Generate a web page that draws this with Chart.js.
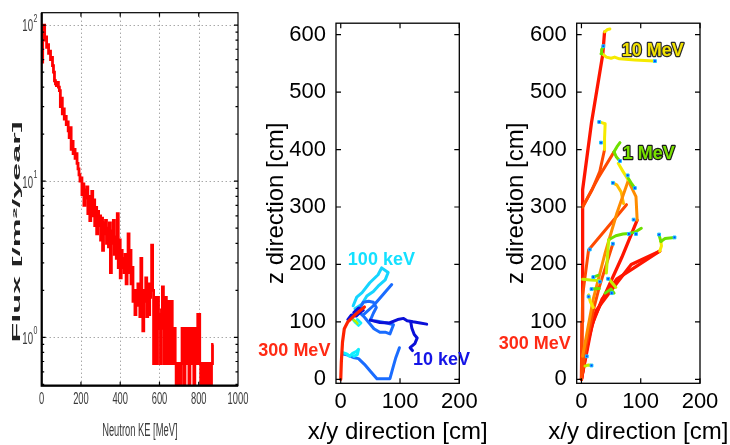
<!DOCTYPE html>
<html>
<head>
<meta charset="utf-8">
<script src="https://cdn.jsdelivr.net/npm/chart.js@4.4.1/dist/chart.umd.min.js"></script>
<style>
  html, body { margin: 0; padding: 0; background: #fff; }
  #wrap { position: relative; width: 730px; height: 445px; overflow: hidden; }
  #wrap canvas { position: absolute; top: 0; }
</style>
</head>
<body>
<div id="wrap">
  <canvas id="fluxChart" width="250" height="445" style="left:0px"></canvas>
  <canvas id="singleChart" width="242" height="445" style="left:250px"></canvas>
  <canvas id="showerChart" width="240" height="445" style="left:490px"></canvas>
</div>
<script>
/**
 * Neutron spectrum + neutron track panels
 */

// ---- left panel: flux spectrum, 5 MeV bins starting at 0 MeV ----
const binWidth = 5;
const fluxValues = [
    58, 92, 100, 80, 84, 72, 75, 66, 68, 60, 62, 55, 50, 44, 42, 41, 43, 40, 38, 30,
    34, 27, 29, 25, 26, 23, 24, 21, 19, 22, 16, 18, 15, 16, 14, 15, 13, 12, 11, 10,
    10.5, 8.2, 9.6, 7.0, 8.8, 7.8, 9.2, 6.2, 8.0, 5.6, 7.4, 8.6, 6.0, 7.6, 5.2, 6.8, 4.6, 6.4, 5.2, 6.0,
    4.2, 5.8, 3.6, 5.4, 4.6, 5.6, 4.0, 5.0, 3.8, 5.4, 2.6, 4.8, 4.0, 5.6, 3.4, 4.4, 3.2, 6.2, 2.8, 4.2,
    2.4, 3.6, 2.8, 3.2, 2.6, 3.4, 2.2, 3.0, 4.6, 2.6, 3.6, 2.2, 2.8, 1.7, 2.0, 1.4, 2.0, 1.6, 2.2, 1.9,
    1.36, 3.2, 1.4, 1.1, 2.0, 1.7, 2.4, 1.36, 2.2, 1.4, 1.8, 2.2, 3.9, 2.0, 0.68, 1.8, 1.4, 0.68, 1.8, 1.4,
    1.14, 0.68, 1.5, 2.1, 1.14, 0.68, 1.8, 1.14, 0.68, 1.7, 1.14, 0.68, 1.7, 1.14, 0.68, 1.14, 0.68, 0, 0.68, 0,
    0.68, 0, 0.68, 1.14, 1.14, 0, 1.14, 0.68, 1.14, 1.14, 0, 1.14, 1.14, 0.68, 1.14, 0, 1.14, 1.14, 0.68, 1.4,
    1.4, 0.68, 0, 0.68, 0.68, 0, 0.68, 0, 0.68, 0.68, 0, 0.68, 0, 0.68, 0.9
];
const energyTicks = [0, 200, 400, 600, 800, 1000];
const energyGrid = [200, 400, 600, 800];
const fluxDecades = [1, 10, 100];
const fluxMin = 0.49;
const fluxMax = 120;

// ---- track panels: [x/y, z] in cm ----
const cmTicksX = [0, 100, 200];
const cmTicksZ = [0, 100, 200, 300, 400, 500, 600];

// single 300 MeV neutron slowing down to keV
const singleRed = [[0, 0], [1, 30], [3, 65], [6, 88], [12, 100], [25, 113], [40, 126]];
const singleGreen = [[22, 103], [26, 100], [28, 97]];
const singleDark1 = [[12, 104], [18, 112], [26, 110], [32, 116], [38, 120], [30, 124], [22, 116]];
const singleDark2 = [[50, 103], [66, 99], [82, 98], [96, 104], [106, 106], [112, 102], [122, 100], [134, 98], [145, 96]];
const singleDark3 = [[118, 100], [120, 89], [124, 78], [129, 72], [125, 62], [117, 55], [121, 50]];
const singleMid1 = [[4, 44], [12, 42], [21, 38], [30, 36], [40, 26], [50, 14], [61, 1], [72, 1], [83, 1], [88, 20], [93, 38], [99, 55]];
const singleMid2 = [[32, 123], [38, 134], [47, 136], [55, 134], [60, 125], [55, 115], [50, 103], [62, 101], [78, 98], [89, 95], [86, 87], [83, 79], [75, 82], [66, 82], [56, 88], [48, 98], [40, 108], [32, 116]];
const singleMid3 = [[38, 112], [55, 128], [70, 146], [86, 165]];
const singleCyan1 = [[21, 128], [27, 143], [36, 151], [49, 168], [63, 182], [69, 194], [80, 186], [75, 173], [63, 162], [55, 153], [44, 145], [36, 131], [24, 123]];
const singleCyan2 = [[5, 46], [10, 44], [15, 40], [20, 45], [26, 48], [30, 52], [28, 43], [22, 40]];
const singleCyan3 = [[18, 108], [24, 100], [30, 94], [34, 98], [28, 104]];

// many 300 MeV neutrons
const showerRed = [
    [[0, 0], [1, 100], [2, 200], [2, 330], [17, 447], [36, 566], [39, 605]],
    [[0, 0], [14, 90], [39, 146], [68, 212], [94, 277]],
    [[0, 0], [12, 70], [25, 120], [48, 152], [84, 200], [132, 223]],
    [[0, 0], [18, 95], [35, 140], [60, 175], [90, 195], [132, 223]]
];
const showerOrangeRed = [
    [[2, 300], [18, 330], [31, 362], [39, 400]],
    [[2, 300], [28, 350], [55, 396]],
    [[0, 0], [2, 146], [12, 225], [76, 304]],
    [[0, 0], [8, 60], [20, 120], [30, 160], [42, 200], [53, 236]]
];
const showerOrange = [
    [[94, 277], [92, 318], [84, 335], [79, 346]],
    [[2, 40], [20, 140], [40, 220], [60, 290], [79, 346]]
];
const showerAmber = [
    [[53, 342], [60, 338], [67, 326], [71, 306]]
];
const showerYellow = [
    [[39, 605], [44, 609], [48, 610]],
    [[35, 567], [42, 561], [50, 559], [56, 561], [64, 558], [90, 556], [123, 554]],
    [[39, 400], [39, 420], [40, 445], [34, 447]],
    [[62, 376], [70, 362], [79, 347]],
    [[132, 223], [135, 232], [134, 240]],
    [[12, 147], [15, 135], [20, 125]]
];
const showerLime = [
    [[46, 243], [44, 215], [42, 185]],
    [[2, 174], [15, 173], [31, 172]],
    [[6, 23], [12, 25], [17, 24]],
    [[46, 175], [54, 165], [58, 160]]
];
const showerGreen = [
    [[33, 567], [34, 574], [37, 579]],
    [[55, 396], [60, 405], [65, 412]],
    [[55, 396], [59, 387], [64, 381]],
    [[79, 350], [85, 340], [90, 333]],
    [[134, 240], [141, 245], [157, 247]],
    [[134, 240], [131, 251]],
    [[46, 243], [58, 250], [70, 253], [80, 254], [90, 256], [101, 263]],
    [[17, 157], [30, 158]],
    [[20, 178], [28, 181]],
    [[40, 150], [50, 157], [55, 150]]
];
const showerEnds = [
    [37, 580], [124, 554], [30, 448], [33, 412], [65, 380], [90, 333], [78, 355], [53, 342],
    [88, 278], [14, 226], [157, 247], [131, 252], [80, 253], [92, 253], [31, 170], [20, 178],
    [17, 157], [12, 144], [51, 150], [45, 175], [9, 40], [17, 24], [53, 236]
];

const FONT = '"Liberation Sans", Arial, Helvetica, sans-serif';

/**
 * Box, inward ticks, dotted grid and text labels (MATLAB look)
 */
const framePlugin = {
    id: 'frame',
    beforeDatasetsDraw(chart, args, o) {
        if (!o.dotted) return;
        const {ctx, chartArea: a, scales} = chart;
        ctx.save();
        ctx.strokeStyle = '#808080';
        ctx.lineWidth = 1;
        ctx.setLineDash([1, 3]);
        ctx.beginPath();
        o.dotted.x.forEach(v => {
            const px = Math.round(scales.x.getPixelForValue(v)) + 0.5;
            ctx.moveTo(px, a.top);
            ctx.lineTo(px, a.bottom);
        });
        o.dotted.y.forEach(v => {
            const py = Math.round(scales.y.getPixelForValue(v)) + 0.5;
            ctx.moveTo(a.left, py);
            ctx.lineTo(a.right, py);
        });
        ctx.stroke();
        ctx.restore();
    },
    afterDatasetsDraw(chart, args, o) {
        const {ctx, chartArea: a, scales} = chart;
        ctx.save();
        ctx.strokeStyle = '#000';
        ctx.lineWidth = 1.2;
        ctx.beginPath();
        (o.xTicks || []).forEach(v => {
            const px = scales.x.getPixelForValue(v);
            ctx.moveTo(px, a.bottom);
            ctx.lineTo(px, a.bottom - o.tickLen);
            ctx.moveTo(px, a.top);
            ctx.lineTo(px, a.top + o.tickLen);
        });
        (o.yTicks || []).forEach(v => {
            const py = scales.y.getPixelForValue(v);
            ctx.moveTo(a.left, py);
            ctx.lineTo(a.left + o.tickLen, py);
            ctx.moveTo(a.right, py);
            ctx.lineTo(a.right - o.tickLen, py);
        });
        (o.yMinor || []).forEach(v => {
            const py = scales.y.getPixelForValue(v);
            ctx.moveTo(a.left, py);
            ctx.lineTo(a.left + o.minorLen, py);
            ctx.moveTo(a.right, py);
            ctx.lineTo(a.right - o.minorLen, py);
        });
        ctx.stroke();
        ctx.lineWidth = o.boxWidth || 1.3;
        ctx.strokeRect(a.left, a.top, a.right - a.left, a.bottom - a.top);
        if (o.heavy) {
            ctx.lineWidth = 2.2;
            ctx.beginPath();
            ctx.moveTo(a.left, a.top);
            ctx.lineTo(a.left, a.bottom);
            ctx.lineTo(a.right, a.bottom);
            ctx.stroke();
        }
        if (o.xTitle) {
            // wider than the plot box, so drawn here instead of scale title
            ctx.fillStyle = '#000';
            ctx.font = '24px ' + FONT;
            ctx.textAlign = 'center';
            ctx.textBaseline = 'middle';
            ctx.fillText(o.xTitle, (a.left + a.right) / 2, 432);
        }
        (o.labels || []).forEach(l => {
            ctx.font = 'bold 18px ' + FONT;
            ctx.textAlign = 'left';
            ctx.textBaseline = 'middle';
            const px = scales.x.getPixelForValue(l.x);
            const py = scales.y.getPixelForValue(l.y);
            if (l.outline) {
                ctx.lineWidth = 2.4;
                ctx.lineJoin = 'round';
                ctx.strokeStyle = l.outline;
                ctx.strokeText(l.text, px, py);
            }
            ctx.fillStyle = l.color;
            ctx.fillText(l.text, px, py);
        });
        ctx.restore();
    }
};

/**
 * Narrow tick labels and stretched title of the spectrum panel
 */
const fluxTextPlugin = {
    id: 'fluxText',
    afterDraw(chart) {
        const {ctx, chartArea: a, scales} = chart;
        ctx.save();
        ctx.fillStyle = '#3a3a3a';
        ctx.textBaseline = 'middle';
        ctx.textAlign = 'center';
        ctx.font = '17px ' + FONT;
        energyTicks.forEach(v => {
            ctx.save();
            ctx.translate(scales.x.getPixelForValue(v), 399);
            ctx.scale(0.55, 1);
            ctx.fillText(String(v), 0, 0);
            ctx.restore();
        });
        ctx.save();
        ctx.font = '18px ' + FONT;
        ctx.translate((a.left + a.right) / 2, 431);
        ctx.scale(0.52, 1);
        ctx.fillText('Neutron KE [MeV]', 0, 0);
        ctx.restore();

        fluxDecades.forEach(v => {
            const py = scales.y.getPixelForValue(v);
            ctx.save();
            ctx.translate(33, py + 2);
            ctx.scale(0.6, 1);
            ctx.textAlign = 'right';
            ctx.font = '16px ' + FONT;
            ctx.fillText('10', 0, 0);
            ctx.restore();
            ctx.save();
            ctx.translate(33.5, py - 6);
            ctx.scale(0.7, 1);
            ctx.textAlign = 'left';
            ctx.font = '10px ' + FONT;
            ctx.fillText(String(Math.round(Math.log10(v))), 0, 0);
            ctx.restore();
        });

        ctx.save();
        ctx.fillStyle = '#222';
        ctx.font = 'bold 10px ' + FONT;
        ctx.translate(17, 232);
        ctx.rotate(-Math.PI / 2);
        const title = 'Flux [/m\u00b2/year]';
        const w = ctx.measureText(title).width;
        ctx.scale(221 / w, 1);
        ctx.textAlign = 'center';
        ctx.fillText(title, 0, 0);
        ctx.restore();
        ctx.restore();
    }
};

function toXY(points) {
    return points.map(p => ({x: p[0], y: p[1]}));
}

function trackSet(points, color, width, order) {
    return {
        data: toXY(points),
        showLine: true,
        borderColor: color,
        borderWidth: width,
        pointRadius: 0,
        borderJoinStyle: 'round',
        borderCapStyle: 'round',
        order: order
    };
}

function cmScales(yWidth) {
    return {
        x: {
            type: 'linear',
            min: -8,
            max: 200,
            afterBuildTicks: s => { s.ticks = cmTicksX.map(v => ({value: v})); },
            ticks: {
                color: '#000',
                font: {family: FONT, size: 22},
                padding: 5,
                maxRotation: 0,
                autoSkip: false
            },
            grid: {display: false, drawTicks: false},
            border: {display: false},
            afterFit: s => { s.height = 61.7; }
        },
        y: {
            type: 'linear',
            min: -7,
            max: 620,
            afterBuildTicks: s => { s.ticks = cmTicksZ.map(v => ({value: v})); },
            ticks: {
                color: '#000',
                font: {family: FONT, size: 22},
                padding: 10,
                autoSkip: false
            },
            grid: {display: false, drawTicks: false},
            border: {display: false},
            title: {
                display: true,
                text: 'z direction [cm]',
                color: '#000',
                font: {family: FONT, size: 24, lineHeight: 1.1},
                padding: {top: 13.5, bottom: 0}
            },
            afterFit: s => { s.width = yWidth; }
        }
    };
}

const baseOptions = {
    responsive: false,
    animation: false,
    events: []
};

/**
 * Spectrum (log y, stairs)
 */
function initFluxChart() {
    const points = fluxValues.map((v, i) => ({x: i * binWidth, y: v > 0 ? v : fluxMin}));
    const last = fluxValues[fluxValues.length - 1];
    points.push({x: fluxValues.length * binWidth, y: last});

    const minor = [];
    [0.1, 1, 10].forEach(d => {
        for (let k = 2; k <= 9; k++) {
            const v = d * k;
            if (v > fluxMin && v < fluxMax) minor.push(v);
        }
    });

    new Chart(document.getElementById('fluxChart'), {
        type: 'line',
        data: {
            datasets: [{
                data: points,
                stepped: true,
                borderColor: '#ff0000',
                borderWidth: 2.8,
                pointRadius: 0,
                borderJoinStyle: 'miter'
            }]
        },
        options: {
            ...baseOptions,
            layout: {padding: {top: 12.7, right: 12, left: 0, bottom: 0}},
            scales: {
                x: {
                    type: 'linear',
                    min: 0,
                    max: 1000,
                    ticks: {display: false},
                    grid: {display: false},
                    border: {display: false},
                    afterFit: s => { s.height = 59.3; }
                },
                y: {
                    type: 'logarithmic',
                    min: fluxMin,
                    max: fluxMax,
                    ticks: {display: false},
                    grid: {display: false},
                    border: {display: false},
                    afterFit: s => { s.width = 41.7; }
                }
            },
            plugins: {
                legend: {display: false},
                tooltip: {enabled: false},
                frame: {
                    dotted: {x: energyGrid, y: fluxDecades},
                    xTicks: energyGrid,
                    yTicks: fluxDecades,
                    yMinor: minor,
                    tickLen: 4,
                    minorLen: 2.5,
                    boxWidth: 1.2,
                    heavy: true
                }
            }
        },
        plugins: [framePlugin, fluxTextPlugin]
    });
}

/**
 * One neutron track
 */
function initSingleChart() {
    const red = '#ff2200', green = '#b8f000', dark = '#0a10d8', mid = '#1a6cff', cyan = '#14d4ff', lightCyan = '#10eeff';
    new Chart(document.getElementById('singleChart'), {
        type: 'scatter',
        data: {
            datasets: [
                trackSet(singleRed, red, 3.2, 0),
                trackSet(singleGreen, green, 2.5, 1),
                trackSet(singleDark1, dark, 3, 2),
                trackSet(singleDark2, dark, 3, 2),
                trackSet(singleDark3, dark, 3, 2),
                trackSet(singleMid1, mid, 3, 3),
                trackSet(singleMid2, mid, 3, 3),
                trackSet(singleMid3, mid, 3, 3),
                trackSet(singleCyan1, cyan, 3, 4),
                trackSet(singleCyan2, lightCyan, 3, 2),
                trackSet(singleCyan3, lightCyan, 3, 4)
            ]
        },
        options: {
            ...baseOptions,
            layout: {padding: {top: 14, right: 32.7, left: 0, bottom: 0}},
            scales: cmScales(86),
            plugins: {
                legend: {display: false},
                tooltip: {enabled: false},
                frame: {
                    xTicks: cmTicksX,
                    yTicks: cmTicksZ,
                    tickLen: 5,
                    boxWidth: 1.3,
                    xTitle: 'x/y direction [cm]',
                    labels: [
                        {text: '300 MeV', x: -139, y: 49, color: '#ff2a14'},
                        {text: '100 keV', x: 12, y: 207, color: '#14e0ff'},
                        {text: '10 keV', x: 122, y: 34, color: '#1414e6'}
                    ]
                }
            }
        },
        plugins: [framePlugin]
    });
}

/**
 * Many neutron tracks
 */
function initShowerChart() {
    const sets = [];
    showerRed.forEach(t => sets.push(trackSet(t, '#ff1500', 3.3, 6)));
    showerOrangeRed.forEach(t => sets.push(trackSet(t, '#ff4a00', 3, 5)));
    showerOrange.forEach(t => sets.push(trackSet(t, '#ff8c00', 3, 4)));
    showerAmber.forEach(t => sets.push(trackSet(t, '#ffbe00', 3, 4)));
    showerYellow.forEach(t => sets.push(trackSet(t, '#f5ea00', 3, 3)));
    showerLime.forEach(t => sets.push(trackSet(t, '#c4f000', 3, 2)));
    showerGreen.forEach(t => sets.push(trackSet(t, '#6ee000', 3, 2)));
    sets.push({
        data: toXY(showerEnds),
        showLine: false,
        pointStyle: 'rect',
        pointRadius: 2,
        backgroundColor: '#0a3cff',
        borderColor: '#19c8ff',
        borderWidth: 1,
        order: 0
    });

    new Chart(document.getElementById('showerChart'), {
        type: 'scatter',
        data: {datasets: sets},
        options: {
            ...baseOptions,
            layout: {padding: {top: 14, right: 30, left: 0, bottom: 0}},
            scales: cmScales(86.7),
            plugins: {
                legend: {display: false},
                tooltip: {enabled: false},
                frame: {
                    xTicks: cmTicksX,
                    yTicks: cmTicksZ,
                    tickLen: 5,
                    boxWidth: 1.3,
                    xTitle: 'x/y direction [cm]',
                    labels: [
                        {text: '10 MeV', x: 68, y: 572, color: '#f2e200', outline: '#2a2a2a'},
                        {text: '1 MeV', x: 69.6, y: 392, color: '#78e000', outline: '#1a1a1a'},
                        {text: '300 MeV', x: -139.5, y: 62, color: '#ff2a14'}
                    ]
                }
            }
        },
        plugins: [framePlugin]
    });
}

document.addEventListener('DOMContentLoaded', function() {
    if (typeof Chart === 'undefined') {
        console.error('Chart.js not loaded');
        return;
    }
    Chart.defaults.font.family = FONT;
    initFluxChart();
    initSingleChart();
    initShowerChart();
});
</script>
</body>
</html>
